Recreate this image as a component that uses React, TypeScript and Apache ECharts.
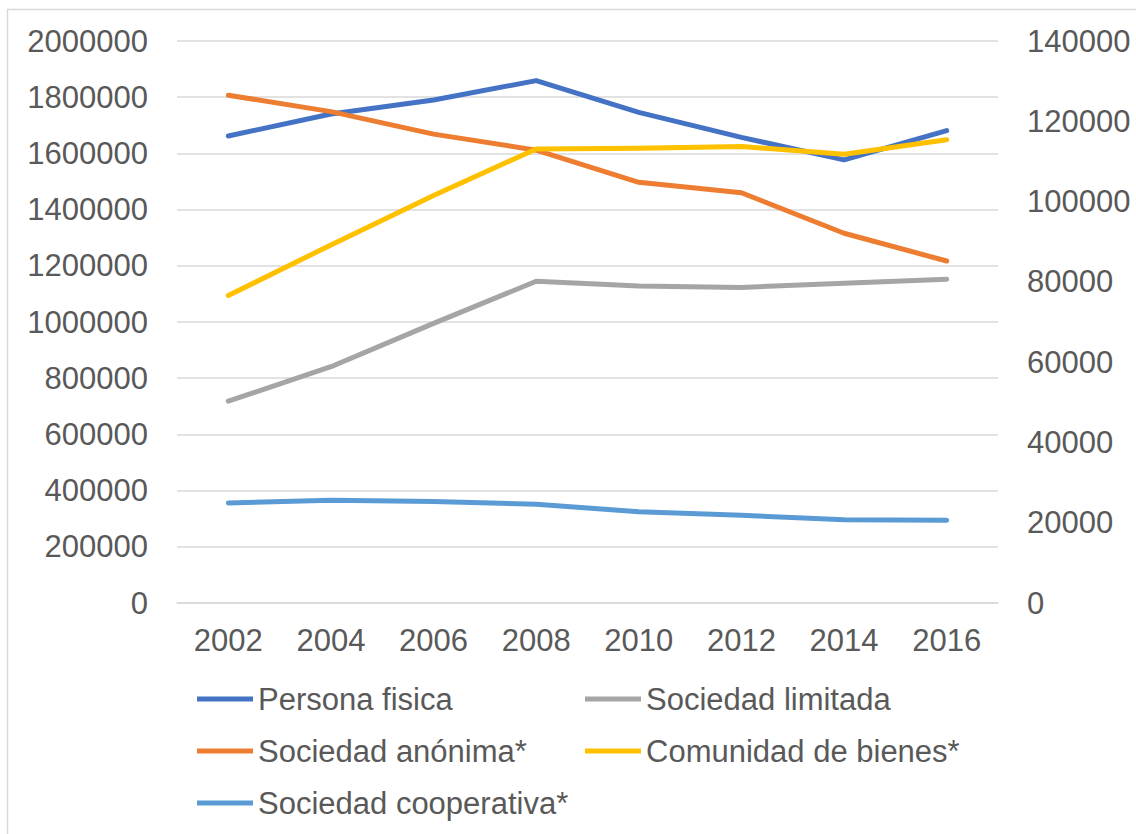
import React, { useEffect, useRef } from "react";
import * as echarts from "echarts";

const years = ["2002", "2004", "2006", "2008", "2010", "2012", "2014", "2016"];
const personaFisica = [1662000, 1740000, 1790000, 1859000, 1746000, 1657000, 1577000, 1681000];
const sociedadLimitada = [718000, 841000, 995000, 1145000, 1128000, 1123000, 1138000, 1152000];
const sociedadAnonima = [126500, 122400, 116800, 112800, 104800, 102200, 92100, 85200];
const comunidadBienes = [76600, 89200, 101500, 113100, 113300, 113700, 111800, 115400];
const sociedadCooperativa = [24900, 25600, 25300, 24600, 22750, 21850, 20750, 20600];

const names = [
  "Persona fisica",
  "Sociedad limitada",
  "Sociedad anónima*",
  "Comunidad de bienes*",
  "Sociedad cooperativa*",
];
const colors = ["#4472C4", "#A5A5A5", "#ED7D31", "#FFC000", "#5B9BD5"];

const FONT = "Liberation Sans, Arial, sans-serif";
const TEXT = "#595959";

export default function App() {
  const ref = useRef<HTMLDivElement>(null);
  useEffect(() => {
    if (!ref.current) return;
    const chart = echarts.init(ref.current, undefined, { renderer: "svg" });
    const dataSets = [personaFisica, sociedadLimitada, sociedadAnonima, comunidadBienes, sociedadCooperativa];
    const axisIdx = [0, 0, 1, 1, 1];
    const legendCommon = {
      orient: "vertical" as const,
      icon: "rect",
      itemWidth: 56,
      itemHeight: 5,
      itemGap: 12,
      padding: 0,
      textStyle: { fontFamily: FONT, fontSize: 31, color: TEXT, lineHeight: 40 },
      selectedMode: false,
    };
    const plain = (v: number) => String(v);
    chart.setOption({
      animation: false,
      textStyle: { fontFamily: FONT },
      graphic: [
        {
          type: "rect",
          shape: { x: 7.5, y: 9.5, width: 2000, height: 2000 },
          style: { fill: "none", stroke: "#d9d9d9", lineWidth: 1.5 },
          silent: true,
        },
      ],
      grid: { left: 177, right: 138, top: 41, bottom: 231 },
      legend: [
        { ...legendCommon, left: 197, top: 679, data: [names[0], names[2], names[4]] },
        { ...legendCommon, left: 585, top: 679, data: [names[1], names[3]] },
      ],
      xAxis: {
        type: "category",
        data: years,
        boundaryGap: true,
        axisLine: { show: true, lineStyle: { color: "#d9d9d9", width: 1.5 } },
        axisTick: { show: false },
        axisLabel: { fontFamily: FONT, fontSize: 31, color: TEXT, margin: 22 },
      },
      yAxis: [
        {
          type: "value",
          min: 0,
          max: 2000000,
          interval: 200000,
          axisLine: { show: false },
          axisTick: { show: false },
          splitLine: { show: true, lineStyle: { color: "#d9d9d9", width: 1.5 } },
          axisLabel: { fontFamily: FONT, fontSize: 31, color: TEXT, margin: 29, formatter: plain },
        },
        {
          type: "value",
          min: 0,
          max: 140000,
          interval: 20000,
          position: "right",
          axisLine: { show: false },
          axisTick: { show: false },
          splitLine: { show: false },
          axisLabel: { fontFamily: FONT, fontSize: 31, color: TEXT, margin: 29, formatter: plain },
        },
      ],
      series: dataSets.map((d, i) => ({
        name: names[i],
        type: "line",
        yAxisIndex: axisIdx[i],
        data: d,
        symbol: "none",
        smooth: false,
        color: colors[i],
        lineStyle: { color: colors[i], width: 5, cap: "round", join: "round" },
      })),
    });
    return () => chart.dispose();
  }, []);
  return (
    <div
      ref={ref}
      style={{ position: "absolute", left: 0, top: 0, width: 1136, height: 834, background: "#fff" }}
    />
  );
}
